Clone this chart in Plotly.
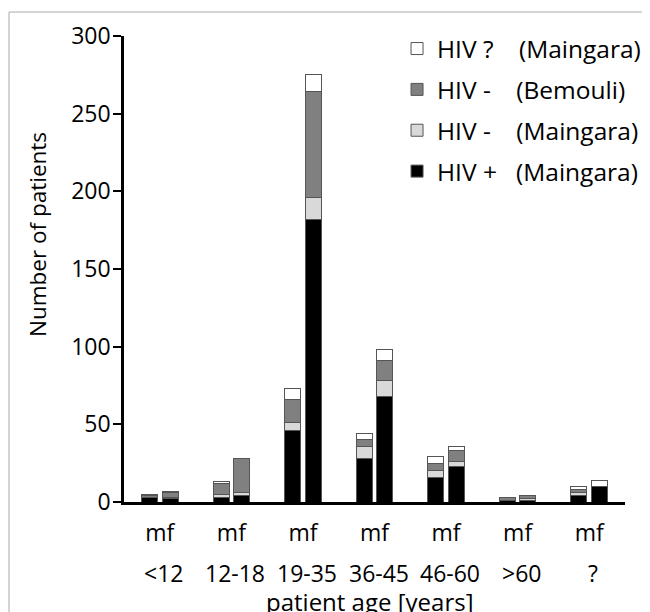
import plotly.graph_objects as go

age_groups = ["<12", "12-18", "19-35", "36-45", "46-60", ">60", "?"]
sex_tick = "mf"

# values per age group: [male, female]
hiv_pos_maingara = [[3, 2], [3, 4], [46, 182], [28, 68], [16, 23], [1, 1], [4, 10]]
hiv_neg_maingara = [[0, 1], [2, 2], [5, 14], [8, 10], [4, 3], [0, 1], [2, 0]]
hiv_neg_bemouli = [[1, 3], [7, 22], [15, 68], [4, 13], [5, 7], [2, 2], [2, 0]]
hiv_unk_maingara = [[1, 1], [1, 0], [7, 11], [4, 7], [4, 3], [0, 0], [2, 4]]

series = [
    ("HIV +\u00a0\u00a0\u00a0(Maingara)", hiv_pos_maingara, "#000000"),
    ("HIV -\u00a0\u00a0\u00a0\u00a0(Maingara)", hiv_neg_maingara, "#d9d9d9"),
    ("HIV -\u00a0\u00a0\u00a0\u00a0(Bemouli)", hiv_neg_bemouli, "#808080"),
    ("HIV ?\u00a0\u00a0\u00a0\u00a0(Maingara)", hiv_unk_maingara, "#ffffff"),
]

offset = 0.143
bar_w = 0.2236
xs = []
for i in range(len(age_groups)):
    xs += [i - offset, i + offset]

fig = go.Figure()
for k, (name, vals, color) in enumerate(series):
    ys = []
    for m, f in vals:
        ys += [m, f]
    fig.add_trace(go.Bar(
        x=xs, y=ys, name=name, width=bar_w,
        marker=dict(color=color, line=dict(color="#555555", width=1)),
        legendgroup=f"g{k}", legendrank=100 - k,
    ))

font = "Open Sans, Noto Sans, sans-serif"

annotations = []
for i, lab in enumerate(age_groups):
    annotations.append(dict(
        x=i, y=0, xref="x", yref="paper", text=lab, showarrow=False,
        yanchor="middle", xanchor="center", yshift=-71, xshift=4,
        font=dict(size=23, color="#000", family=font)))
annotations.append(dict(
    x=0.49, y=0, xref="paper", yref="paper", text="patient age [years]",
    showarrow=False, yanchor="middle", xanchor="center", yshift=-99,
    font=dict(size=24, color="#000", family=font)))
annotations.append(dict(
    x=-0.1737, y=0.575, xref="paper", yref="paper", text="Number of patients",
    showarrow=False, textangle=-90, xanchor="center", yanchor="middle",
    font=dict(size=22.5, color="#000", family=font)))

shapes = [
    dict(type="line", xref="paper", yref="paper", x0=-0.2295, x1=1.06,
         y0=1.0515, y1=1.0515, line=dict(color="#aaaaaa", width=1)),
    dict(type="line", xref="paper", yref="paper", x0=-0.2295, x1=-0.2295,
         y0=1.0515, y1=-0.3, line=dict(color="#aaaaaa", width=1)),
]

fig.update_layout(
    width=642, height=604,
    margin=dict(l=116, r=25, t=28, b=110, autoexpand=False),
    barmode="stack",
    paper_bgcolor="#ffffff", plot_bgcolor="#ffffff",
    showlegend=True,
    legend=dict(
        x=0.545, y=0.97, xanchor="left", yanchor="top", yref="container",
        traceorder="grouped", tracegroupgap=6,
        font=dict(size=24.5, color="#000", family=font),
        bgcolor="rgba(0,0,0,0)",
    ),
    xaxis=dict(
        range=[-0.5, 6.5], tickmode="array",
        tickvals=list(range(len(age_groups))),
        ticktext=[sex_tick] * len(age_groups),
        ticks="outside", ticklen=8, tickcolor="rgba(0,0,0,0)",
        showline=True, linecolor="#000", linewidth=3,
        showgrid=False, zeroline=False, automargin=False,
        tickfont=dict(size=23, color="#000", family=font),
    ),
    yaxis=dict(
        range=[0, 300], tickmode="array", tickvals=[0, 50, 100, 150, 200, 250, 300],
        ticks="outside", ticklen=8, tickwidth=2, tickcolor="#000",
        ticklabelstandoff=-2,
        showline=True, linecolor="#000", linewidth=2.5,
        showgrid=False, zeroline=False, automargin=False,
        tickfont=dict(size=23, color="#000", family=font),
    ),
    annotations=annotations,
    shapes=shapes,
    font=dict(family=font, color="#000"),
)

fig.write_html("out.html")
